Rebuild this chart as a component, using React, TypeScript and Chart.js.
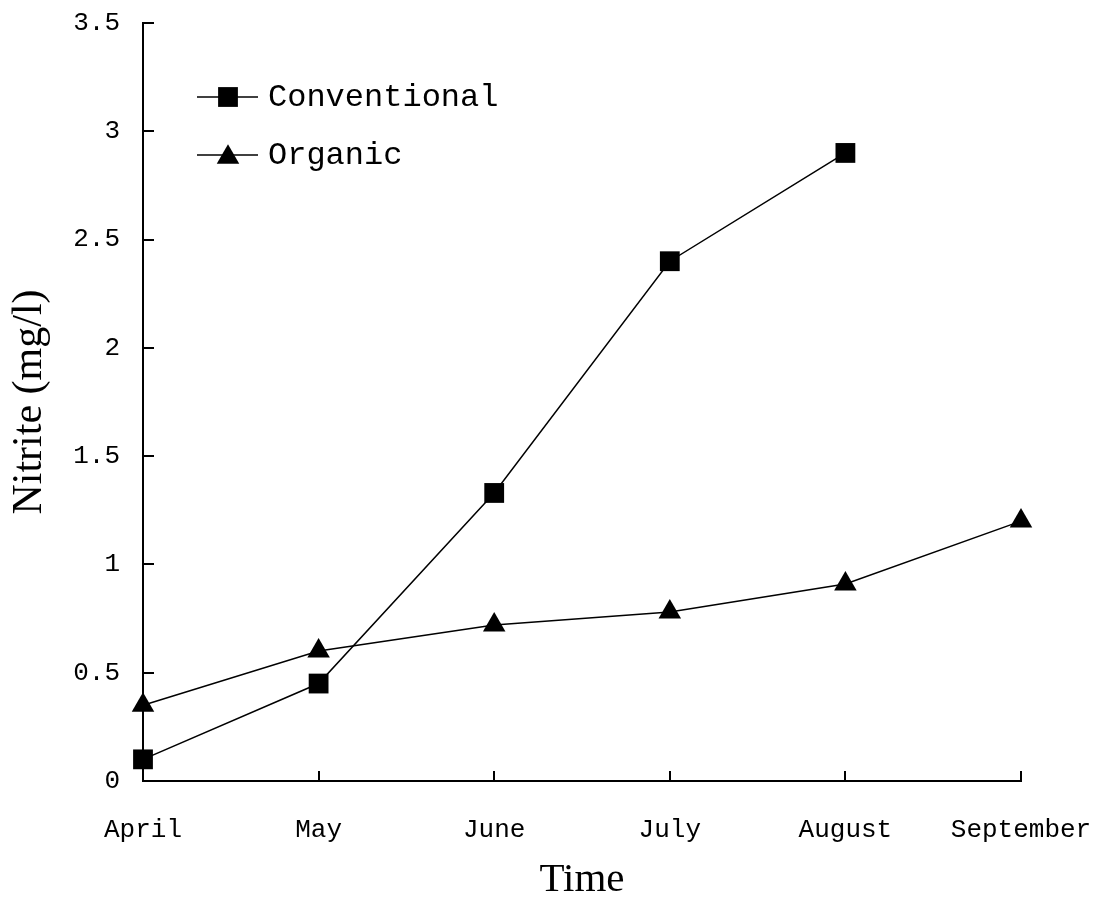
import React, { useEffect, useRef } from "react";
import { Chart, registerables } from "chart.js";
Chart.register(...registerables);

const months = ["April", "May", "June", "July", "August", "September"];
const conventional: (number | null)[] = [0.1, 0.45, 1.33, 2.4, 2.9, null];
const organic: number[] = [0.35, 0.6, 0.72, 0.78, 0.91, 1.2];
const seriesNames = ["Conventional", "Organic"];
const yMin = 0;
const yMax = 3.5;
const yStep = 0.5;

const MONO = "'Liberation Mono', 'DejaVu Sans Mono', monospace";
const SERIF = "'Liberation Serif', 'DejaVu Serif', serif";

function drawMarker(ctx: CanvasRenderingContext2D, style: string, x: number, y: number, r: number) {
  ctx.beginPath();
  if (style === "rect") {
    const s = Math.SQRT1_2 * r;
    ctx.rect(x - s, y - s, 2 * s, 2 * s);
  } else {
    const h = 1.5 * r;
    const w = Math.sqrt(3) * r;
    ctx.moveTo(x, y - h / 2 - 1);
    ctx.lineTo(x + w / 2, y + h / 2 - 1);
    ctx.lineTo(x - w / 2, y + h / 2 - 1);
    ctx.closePath();
  }
  ctx.fill();
}

const innerTicks = {
  id: "innerTicks",
  beforeDatasetsDraw(chart: any) {
    const { ctx, scales } = chart;
    const xs = scales.x;
    const ys = scales.y;
    ctx.save();
    ctx.strokeStyle = "#000";
    ctx.lineWidth = 2;
    ctx.beginPath();
    xs.ticks.forEach((_t: any, i: number) => {
      const px = Math.round(xs.getPixelForTick(i));
      ctx.moveTo(px, ys.bottom);
      ctx.lineTo(px, ys.bottom - 10);
    });
    ys.ticks.forEach((t: any) => {
      const py = Math.round(ys.getPixelForValue(t.value));
      ctx.moveTo(xs.left, py);
      ctx.lineTo(xs.left + 11, py);
    });
    ctx.stroke();
    ctx.restore();
  },
};

const customLegend = {
  id: "customLegend",
  afterDraw(chart: any) {
    const { ctx, chartArea } = chart;
    const x0 = chartArea.left + 54;
    const y0 = chartArea.top + 74;
    const gap = 58;
    ctx.save();
    chart.data.datasets.forEach((ds: any, i: number) => {
      const y = y0 + i * gap;
      ctx.strokeStyle = "#000";
      ctx.fillStyle = "#000";
      ctx.lineWidth = 1.5;
      ctx.beginPath();
      ctx.moveTo(x0, y);
      ctx.lineTo(x0 + 61, y);
      ctx.stroke();
      drawMarker(ctx, ds.pointStyle, x0 + 31, y, ds.pointRadius);
      ctx.font = `32px ${MONO}`;
      ctx.textBaseline = "middle";
      ctx.textAlign = "left";
      ctx.fillText(ds.label, x0 + 71, y + 1);
    });
    ctx.restore();
  },
};

function zeroPad(s: any) {
  s.paddingLeft = 0;
  s.paddingRight = 0;
  s.paddingTop = 0;
  s.paddingBottom = 0;
}

export default function App() {
  const ref = useRef<HTMLCanvasElement | null>(null);
  useEffect(() => {
    if (!ref.current) return;
    const chart = new Chart(ref.current, {
      type: "line",
      data: {
        labels: months,
        datasets: [
          {
            label: seriesNames[0],
            data: conventional,
            borderColor: "#000",
            backgroundColor: "#000",
            borderWidth: 1.5,
            pointStyle: "rect",
            pointRadius: 14,
            pointBorderWidth: 0,
            pointBackgroundColor: "#000",
            spanGaps: false,
          },
          {
            label: seriesNames[1],
            data: organic,
            borderColor: "#000",
            backgroundColor: "#000",
            borderWidth: 1.5,
            pointStyle: "triangle",
            pointRadius: 13,
            pointBorderWidth: 0,
            pointBackgroundColor: "#000",
          },
        ],
      },
      options: {
        responsive: false,
        animation: false,
        layout: { padding: { left: 0, top: 23, right: 80, bottom: 0 } },
        plugins: { legend: { display: false }, tooltip: { enabled: false } },
        scales: {
          x: {
            type: "category",
            offset: false,
            grid: { display: false, drawTicks: false },
            border: { display: true, color: "#000", width: 2 },
            ticks: {
              color: "#000",
              font: { family: MONO, size: 26 },
              padding: 34,
              maxRotation: 0,
              autoSkip: false,
            },
            title: {
              display: true,
              text: "Time",
              color: "#000",
              font: { family: SERIF, size: 41 },
              padding: { top: 0, bottom: 8 },
            },
            afterFit: (s: any) => {
              s.height = 132;
              zeroPad(s);
            },
          },
          y: {
            min: yMin,
            max: yMax,
            grid: { display: false, drawTicks: false },
            border: { display: true, color: "#000", width: 2 },
            ticks: {
              stepSize: yStep,
              color: "#000",
              font: { family: MONO, size: 26 },
              padding: 23,
              callback: (v: any) => String(v),
            },
            title: {
              display: true,
              text: "Nitrite (mg/l)",
              color: "#000",
              font: { family: SERIF, size: 42 },
              padding: { top: 5, bottom: 0 },
            },
            afterFit: (s: any) => {
              s.width = 143;
              zeroPad(s);
            },
          },
        },
      },
      plugins: [innerTicks, customLegend],
    });
    return () => chart.destroy();
  }, []);
  return (
    <div style={{ position: "absolute", left: 0, top: 0, width: 1101, height: 913, background: "#fff" }}>
      <canvas ref={ref} width={1101} height={913} />
    </div>
  );
}
